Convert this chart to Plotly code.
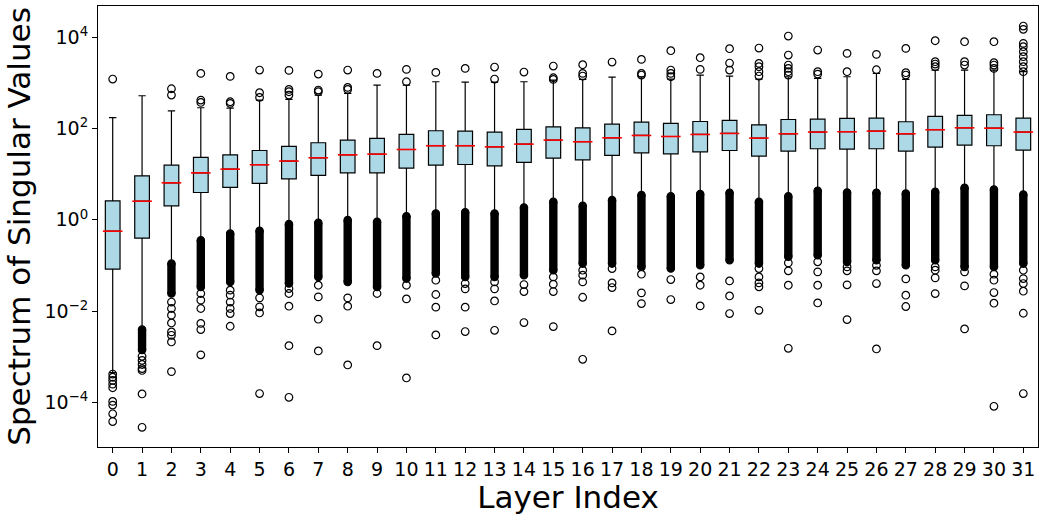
import plotly.graph_objects as go

layers = list(range(32))

whisker_hi = [173, 524, 245, 286, 281, 421, 436, 542, 589, 897,
              897, 1062, 1045, 1045, 1062, 1156, 1194, 1346, 1368, 1216,
              1489, 1416, 1216, 1368, 1256, 1368, 1618, 1194, 1914, 1914,
              1914, 1762]
q3 = [2.61, 9.23, 15.8, 23.3, 26.6, 33.1, 40.6, 48.9, 55.8, 60.8,
      74.3, 89.5, 87.9, 83.6, 95.7, 109, 104, 125, 139, 130,
      143, 151, 121, 158, 161, 167, 170, 141, 185, 194,
      201, 170]
median = [0.564, 2.56, 6.47, 10.7, 12.9, 16.1, 19.4, 22.9, 26.6, 27.5,
          34.8, 42.0, 42.0, 39.8, 45.6, 55.8, 51.4, 62.8, 70.6, 67.1,
          74.3, 78.2, 61.8, 76.9, 83.8, 85.1, 87.9, 76.9, 94.2, 104,
          102, 83.8]
q1 = [0.0828, 0.396, 2.03, 3.97, 5.12, 6.27, 7.93, 9.38, 10.7, 10.7,
      13.6, 15.8, 16.3, 15.3, 18.1, 22.5, 20.7, 25.8, 29.4, 28.0,
      31.0, 33.1, 24.9, 32.1, 36.1, 35.5, 36.1, 32.1, 39.3, 43.4,
      42.0, 33.7]
whisker_lo = [4.47e-4, 3.94e-3, 0.110, 0.358, 0.501, 0.574, 0.804, 0.859, 0.984, 0.904,
              1.20, 1.38, 1.47, 1.38, 1.86, 2.48, 2.03, 2.70, 3.48, 3.30,
              3.66, 3.91, 2.48, 3.30, 4.33, 3.97, 3.91, 3.78, 4.11, 5.04,
              4.62, 3.60]

# dense clusters of low outliers (top = just below the lower whisker end)
dense_top = [None, 3.94e-3, 0.110, 0.358, 0.501, 0.574, 0.804, 0.859, 0.984, 0.904,
             1.20, 1.38, 1.47, 1.38, 1.86, 2.48, 2.03, 2.70, 3.48, 3.30,
             3.66, 3.91, 2.48, 3.30, 4.33, 3.97, 3.91, 3.78, 4.11, 5.04,
             4.62, 3.60]
dense_bottom = [None, 1.41e-3, 0.0243, 0.0339, 0.0437, 0.0288, 0.0402, 0.0562, 0.0437, 0.0339,
                0.0516, 0.0665, 0.0562, 0.0562, 0.0612, 0.0787, 0.110, 0.110, 0.0931, 0.0857,
                0.101, 0.130, 0.110, 0.155, 0.168, 0.120, 0.130, 0.101, 0.130, 0.0931,
                0.0931, 0.110]

outliers_high = [
    [1216],
    [],
    [746, 542],
    [421, 374, 1618],
    [387, 356, 1390],
    [610, 482, 1914],
    [721, 641, 542, 1884],
    [698, 641, 1563],
    [798, 721, 1914],
    [1618],
    [1062, 1982],
    [1702],
    [2084],
    [1216, 2228],
    [1730],
    [1300, 1194, 2344],
    [1618, 1416, 2506],
    [2871],
    [1618, 1489, 3281],
    [1914, 1618, 1368, 5082],
    [1982, 3573],
    [1914, 2729, 5623],
    [2679, 2265, 1762, 1416, 5821],
    [2466, 2084, 1762, 1489, 4083, 10666],
    [1762, 1563, 5260],
    [1762, 4446],
    [1945, 4227],
    [1675, 1489, 5715],
    [2917, 2594, 2265, 8414],
    [2917, 2466, 8017],
    [2773, 2466, 2084, 8017],
    [7362, 6223, 4831, 3758, 2917, 2265, 1762, 17660, 14928],
]

outliers_low = [
    [4.17e-4, 3.55e-4, 3.02e-4, 2.51e-4, 2.09e-4, 1.05e-4, 8.71e-5, 5.62e-5, 3.80e-5],
    [1.02e-3, 8.32e-4, 6.76e-4, 5.50e-4, 5.01e-4, 1.53e-4, 2.84e-5],
    [0.0158, 0.0114, 8.13e-3, 5.50e-3, 3.50e-3, 2.95e-3, 2.11e-3, 4.72e-4],
    [0.0243, 0.0174, 0.0114, 5.37e-3, 3.94e-3, 1.10e-3],
    [0.0288, 0.0224, 0.0158, 0.0114, 8.83e-3, 4.66e-3],
    [0.0195, 0.0124, 9.12e-3, 1.56e-4],
    [0.0312, 0.0243, 0.0128, 1.75e-3, 1.29e-4],
    [0.0369, 0.0205, 6.64e-3, 1.34e-3],
    [0.0195, 0.0128, 6.61e-4],
    [0.0243, 1.75e-3],
    [0.0369, 0.0185, 3.43e-4],
    [0.0475, 0.0231, 0.0122, 3.01e-3],
    [0.0402, 0.0307, 0.0122, 3.56e-3],
    [0.0437, 0.0307, 0.0167, 3.80e-3],
    [0.0382, 0.0268, 5.61e-3],
    [0.0562, 0.0388, 0.0268, 4.58e-3],
    [0.0787, 0.0612, 0.0437, 0.0201, 8.79e-4],
    [0.0857, 0.0415, 0.0328, 3.68e-3],
    [0.0643, 0.0251, 0.0146],
    [0.0492, 0.0179],
    [0.0562, 0.0369, 0.0130],
    [0.0459, 0.0215, 8.83e-3],
    [0.0857, 0.0562, 0.0415, 0.0340, 0.0104],
    [0.114, 0.0762, 0.0369, 1.53e-3],
    [0.120, 0.0724, 0.0369, 0.0151],
    [0.0931, 0.0762, 0.0376, 6.52e-3],
    [0.101, 0.0762, 0.0402, 1.48e-3],
    [0.0508, 0.0223, 0.0126],
    [0.0931, 0.0787, 0.0535, 0.0242],
    [0.0724, 0.0357, 4.07e-3],
    [0.0643, 0.0475, 0.0255, 0.0149, 8.20e-5],
    [0.0787, 0.0516, 0.0402, 0.0273, 8.97e-3, 1.56e-4],
]

tick_vals = [1e-4, 1e-2, 1, 1e2, 1e4]
tick_text = ["10<sup>\u22124</sup>", "10<sup>\u22122</sup>", "10<sup>0</sup>",
             "10<sup>2</sup>", "10<sup>4</sup>"]

fig = go.Figure()

fig.add_trace(go.Box(
    x=layers, q1=q1, median=median, q3=q3,
    lowerfence=whisker_lo, upperfence=whisker_hi,
    width=0.5, whiskerwidth=0.5,
    fillcolor="#add8e6",
    line=dict(color="black", width=1.2),
    boxpoints=False, hoverinfo="skip", showlegend=False,
))

# red median lines
fig.add_trace(go.Scatter(
    x=layers, y=median, mode="markers",
    marker=dict(symbol="line-ew", size=14, line=dict(color="red", width=1.6)),
    hoverinfo="skip", showlegend=False,
))

# dense outlier clusters
dx, dy = [], []
for i, (t, b) in enumerate(zip(dense_top, dense_bottom)):
    if t is None:
        continue
    dx += [i, i, None]
    dy += [t, b, None]
fig.add_trace(go.Scatter(
    x=dx, y=dy, mode="lines+markers",
    line=dict(color="black", width=8.4),
    marker=dict(symbol="circle", size=7.4, color="black", line=dict(color="black", width=1.2)),
    hoverinfo="skip", showlegend=False,
))

# individual outliers
ox, oy = [], []
for i in layers:
    for v in outliers_high[i] + outliers_low[i]:
        ox.append(i)
        oy.append(v)
fig.add_trace(go.Scatter(
    x=ox, y=oy, mode="markers",
    marker=dict(symbol="circle-open", size=7.6, color="black", line=dict(color="black", width=1.2)),
    hoverinfo="skip", showlegend=False,
))

font_family = "DejaVu Sans"
fig.update_layout(
    width=1039, height=515,
    margin=dict(l=98, r=1, t=6, b=68),
    paper_bgcolor="white", plot_bgcolor="white",
    font=dict(family=font_family, color="black", size=19),
    showlegend=False,
)
fig.update_xaxes(
    range=[-0.5, 31.5], tickmode="array", tickvals=layers,
    ticktext=[str(i) for i in layers],
    ticks="outside", ticklen=5, tickwidth=1, tickcolor="black",
    showline=True, linecolor="black", linewidth=1, mirror=True,
    showgrid=False, zeroline=False,
    tickfont=dict(size=19),
    title=dict(text="Layer Index", font=dict(size=31), standoff=3),
)
fig.update_yaxes(
    type="log", range=[-4.978, 4.686],
    tickmode="array", tickvals=tick_vals, ticktext=tick_text,
    ticks="outside", ticklen=5, tickwidth=1, tickcolor="black",
    showline=True, linecolor="black", linewidth=1, mirror=True,
    showgrid=False, zeroline=False,
    tickfont=dict(size=19),
    title=dict(text="Spectrum of Singular Values", font=dict(size=31), standoff=4),
)

fig.write_html(
    "out.html",
    config={"displayModeBar": False},
    post_script="document.body.style.margin='0';document.body.style.overflow='hidden';",
)
